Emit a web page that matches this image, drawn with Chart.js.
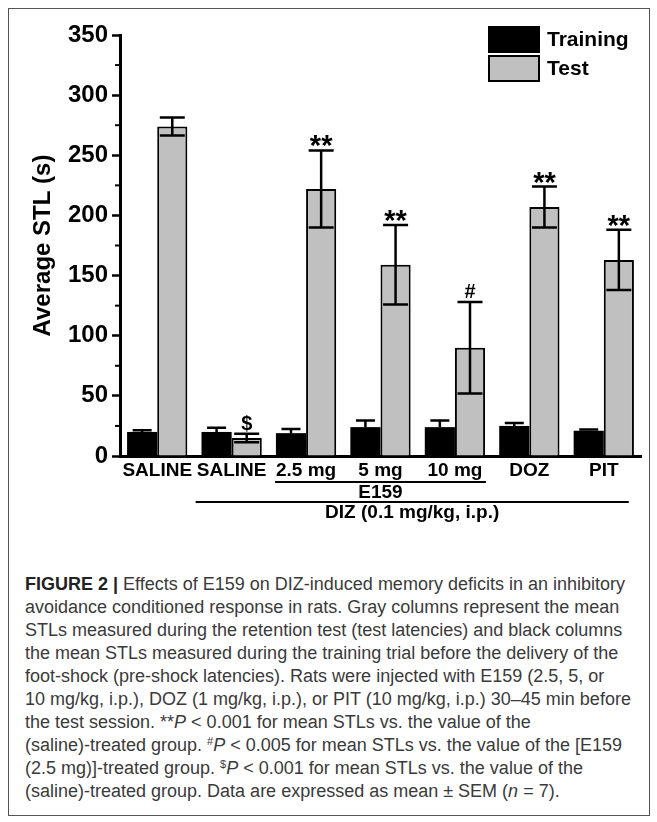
<!DOCTYPE html>
<html>
<head>
<meta charset="utf-8">
<script src="https://cdn.jsdelivr.net/npm/chart.js@4.4.0/dist/chart.umd.min.js"></script>
<style>
  body { margin: 0; background: #fff; width: 657px; height: 822px; position: relative; overflow: hidden; }
  #frame { position: absolute; left: 8px; top: 8px; width: 640px; height: 806px; border: 1px solid #555; }
  #wrap { position: absolute; left: 0; top: 0; width: 657px; height: 530px; }
  #caption {
    position: absolute; left: 25px; top: 573px;
    font-family: "Liberation Sans", Arial, sans-serif; font-size: 18px; line-height: 23px;
    color: #3a3a3a; white-space: nowrap;
  }
  #caption b { color: #222; }
  #caption sup { font-size: 11px; vertical-align: 6px; line-height: 0; }
</style>
</head>
<body>
<div id="frame"></div>
<div id="wrap"><canvas id="stlChart" width="657" height="530"></canvas></div>
<div id="caption">
<b>FIGURE 2 |</b> Effects of E159 on DIZ-induced memory deficits in an inhibitory<br>
avoidance conditioned response in rats. Gray columns represent the mean<br>
STLs measured during the retention test (test latencies) and black columns<br>
the mean STLs measured during the training trial before the delivery of the<br>
foot-shock (pre-shock latencies). Rats were injected with E159 (2.5, 5, or<br>
10 mg/kg, i.p.), DOZ (1 mg/kg, i.p.), or PIT (10 mg/kg, i.p.) 30–45 min before<br>
the test session. **<i>P</i> &lt; 0.001 for mean STLs vs. the value of the<br>
(saline)-treated group. <sup>#</sup><i>P</i> &lt; 0.005 for mean STLs vs. the value of the [E159<br>
(2.5 mg)]-treated group. <sup>$</sup><i>P</i> &lt; 0.001 for mean STLs vs. the value of the<br>
(saline)-treated group. Data are expressed as mean ± SEM (<i>n</i> = 7).
</div>
<script>
// groups on the x axis
const groups = ['SALINE', 'SALINE', '2.5 mg', '5 mg', '10 mg', 'DOZ', 'PIT'];

// mean STL (s) and SEM
const trainingMean = [20, 20, 19, 24, 24, 25, 21];
const trainingSem  = [1.5, 3.5, 3.5, 5.5, 5.5, 2.5, 1];
const testMean = [274, 15, 222, 159, 90, 207, 163];
const testSem  = [7.5, 3.5, 32, 33, 38, 17, 25];

// significance marks above the test bars
const testMarks = ['', '$', '**', '**', '#', '**', '**'];

const yTicks = [0, 50, 100, 150, 200, 250, 300, 350];

Chart.defaults.font.family = '"Liberation Sans", Arial, sans-serif';
Chart.defaults.color = '#000';

// error bars + marks drawn on top of the bars
const errorBars = {
    id: 'errorBars',
    afterDatasetsDraw(chart) {
        const ctx = chart.ctx;
        const y = chart.scales.y;
        const sets = [
            { mean: trainingMean, sem: trainingSem, cap: 19, down: false },
            { mean: testMean, sem: testSem, cap: 25, down: true }
        ];
        ctx.save();
        ctx.strokeStyle = '#000';
        ctx.lineWidth = 2.5;
        sets.forEach((s, di) => {
            chart.getDatasetMeta(di).data.forEach((bar, i) => {
                const top = y.getPixelForValue(s.mean[i] + s.sem[i]);
                const bot = y.getPixelForValue(s.down ? s.mean[i] - s.sem[i] : s.mean[i]);
                ctx.beginPath();
                ctx.moveTo(bar.x, top); ctx.lineTo(bar.x, bot);
                ctx.moveTo(bar.x - s.cap / 2, top); ctx.lineTo(bar.x + s.cap / 2, top);
                if (s.down) {
                    ctx.moveTo(bar.x - s.cap / 2, bot); ctx.lineTo(bar.x + s.cap / 2, bot);
                }
                ctx.stroke();
            });
        });
        // marks
        ctx.fillStyle = '#000';
        ctx.textAlign = 'center';
        ctx.textBaseline = 'alphabetic';
        chart.getDatasetMeta(1).data.forEach((bar, i) => {
            const m = testMarks[i];
            if (!m) return;
            const top = y.getPixelForValue(testMean[i] + testSem[i]);
            if (m === '**') {
                ctx.font = 'bold 29px "Liberation Sans", Arial';
                ctx.fillText(m, bar.x, top + 5);
            } else {
                ctx.font = 'bold 20px "Liberation Sans", Arial';
                ctx.fillText(m, bar.x, top - 4);
            }
        });
        ctx.restore();
    },
    afterDraw(chart) {
        const ctx = chart.ctx;
        const x = chart.scales.x;
        const y = chart.scales.y;
        ctx.save();
        // minor ticks on the y axis
        ctx.strokeStyle = '#000';
        ctx.lineWidth = 2;
        for (let v = 25; v < 350; v += 50) {
            const py = y.getPixelForValue(v);
            ctx.beginPath();
            ctx.moveTo(x.left - 5, py); ctx.lineTo(x.left, py);
            ctx.stroke();
        }
        // group labels under the axis
        const axisY = y.getPixelForValue(0);
        ctx.lineWidth = 2;
        const lineY1 = axisY + 26;
        const l1 = x.getPixelForValue(2) - 31, r1 = x.getPixelForValue(4) + 31;
        ctx.beginPath(); ctx.moveTo(l1, lineY1); ctx.lineTo(r1, lineY1); ctx.stroke();
        const lineY2 = axisY + 46;
        const l2 = x.getPixelForValue(1) - 36, r2 = x.getPixelForValue(6) + 25;
        ctx.beginPath(); ctx.moveTo(l2, lineY2); ctx.lineTo(r2, lineY2); ctx.stroke();
        ctx.fillStyle = '#000';
        ctx.font = 'bold 19px "Liberation Sans", Arial';
        ctx.textAlign = 'center';
        ctx.textBaseline = 'middle';
        ctx.fillText('E159', (l1 + r1) / 2, lineY1 + 11);
        ctx.fillText('DIZ (0.1 mg/kg, i.p.)', (l2 + r2) / 2, lineY2 + 11);

        // legend
        const lx = 489, ly = 27;
        chart.data.datasets.forEach((ds, i) => {
            const by = ly + i * 29;
            ctx.fillStyle = ds.backgroundColor;
            ctx.fillRect(lx, by, 50, 25);
            ctx.strokeStyle = '#000';
            ctx.lineWidth = 2;
            ctx.strokeRect(lx, by, 50, 25);
            ctx.fillStyle = '#000';
            ctx.font = 'bold 21px "Liberation Sans", Arial';
            ctx.textAlign = 'left';
            ctx.fillText(ds.label, lx + 58, by + 13);
        });
        ctx.restore();
    }
};

new Chart(document.getElementById('stlChart').getContext('2d'), {
    type: 'bar',
    data: {
        labels: groups,
        datasets: [{
            label: 'Training',
            data: trainingMean,
            backgroundColor: '#000000',
            borderWidth: 0,
            categoryPercentage: 0.81,
            barPercentage: 1.0
        }, {
            label: 'Test',
            data: testMean,
            backgroundColor: '#c0c0c0',
            borderColor: '#000000',
            borderWidth: 2,
            categoryPercentage: 0.81,
            barPercentage: 1.0
        }]
    },
    options: {
        responsive: false,
        animation: false,
        layout: { padding: { left: 0, right: 16, top: 35, bottom: 44 } },
        plugins: { legend: { display: false }, tooltip: { enabled: false } },
        scales: {
            x: {
                grid: { display: false },
                border: { display: true, color: '#000', width: 3 },
                ticks: { font: { size: 19, weight: 'bold' }, padding: -5, maxRotation: 0, autoSkip: false },
                afterFit: s => { s.height = 30; }
            },
            y: {
                min: 0,
                max: 350,
                afterBuildTicks: s => { s.ticks = yTicks.map(v => ({ value: v })); },
                grid: { drawOnChartArea: false, tickLength: 8, tickWidth: 2.5, tickColor: '#000' },
                border: { display: true, color: '#000', width: 3 },
                ticks: { font: { size: 24, weight: 'bold' }, padding: 4 },
                title: {
                    display: true,
                    text: 'Average STL (s)',
                    font: { size: 24, weight: 'bold' },
                    padding: { top: 29, bottom: 0 }
                },
                afterFit: s => { s.width = 120; }
            }
        }
    },
    plugins: [errorBars]
});
</script>
</body>
</html>
